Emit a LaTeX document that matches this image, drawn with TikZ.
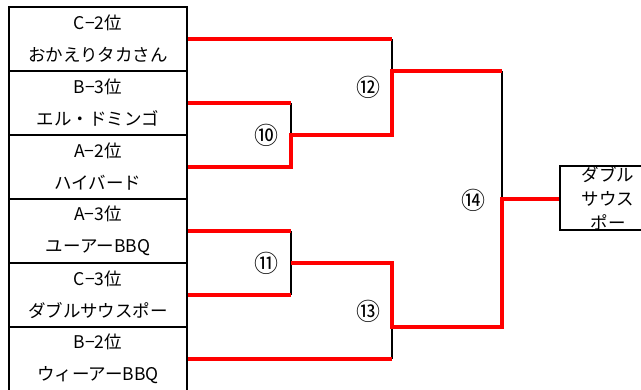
\documentclass[tikz,border=0pt]{standalone}
\usepackage{fontspec}
\setmainfont{Noto Sans CJK JP}
\begin{document}
\begin{tikzpicture}[x=1pt,y=-1pt,
  entry/.style={draw=black,line width=2.5pt,minimum width=178pt,minimum height=64pt,inner sep=0pt,align=center,font=\fontsize{17.5}{32}\selectfont},
  finalbox/.style={draw=black,line width=2.5pt,minimum width=96pt,minimum height=64pt,inner sep=0pt,align=center,font=\fontsize{17.5}{24}\selectfont},
  win/.style={draw=red,line width=3.5pt},
  lose/.style={draw=black,line width=2pt},
  num/.style={font=\fontsize{24}{24}\selectfont}]
\useasboundingbox (0,0) rectangle (641,389);
\clip (0,0) rectangle (641,389);
% entries
\node[entry] (e1) at (98,39)  {C−2位\\おかえりタカさん};
\node[entry] (e2) at (98,103) {B−3位\\エル・ドミンゴ};
\node[entry] (e3) at (98,167) {A−2位\\ハイバード};
\node[entry] (e4) at (98,231) {A−3位\\ユーアーBBQ};
\node[entry] (e5) at (98,295) {C−3位\\ダブルサウスポー};
\node[entry] (e6) at (98,359) {B−2位\\ウィーアーBBQ};
\node[finalbox] (f) at (608,198) {ダブル\\サウス\\ポー};
% bracket points
\coordinate (a1) at (392,39);
\coordinate (a2) at (291,103);
\coordinate (a3) at (291,167);
\coordinate (a3u) at (291,135);
\coordinate (b12) at (392,135);
\coordinate (c12) at (392,71);
\coordinate (d14) at (502,71);
\coordinate (a4) at (291,231);
\coordinate (a5) at (291,295);
\coordinate (m11) at (291,263);
\coordinate (b13) at (392,263);
\coordinate (c13) at (392,327);
\coordinate (d13) at (502,327);
\coordinate (m14) at (502,199);
\coordinate (a6) at (392,359);
% black bracket verticals
\draw[lose] (a2) -- (a3u);
\draw[lose] (a1) -- (c12);
\draw[lose] (d14) -- (m14);
\draw[lose] (a4) -- (a5);
\draw[lose] (c13) -- (a6);
% red lines
\draw[win] (e1.east |- a1) -- (a1);
\draw[win] (e2.east |- a2) -- (a2);
\draw[win,line join=miter] (e3.east |- a3) -- (a3) -- (a3u) -- (b12) -- (c12) -- (d14);
\draw[win] (e4.east |- a4) -- (a4);
\draw[win] (e5.east |- a5) -- (a5);
\draw[win,line join=miter] (m11) -- (b13) -- (c13) -- (d13) -- (m14) -- (f.west |- m14);
\draw[win] (e6.east |- a6) -- (a6);
% match numbers
\node[num] (n10) at (266,135) {⑩};
\node[num] (n11) at (266,263) {⑪};
\node[num] (n12) at (368,87) {⑫};
\node[num] (n13) at (368,311) {⑬};
\node[num] (n14) at (473,200) {⑭};
\end{tikzpicture}
\end{document}
